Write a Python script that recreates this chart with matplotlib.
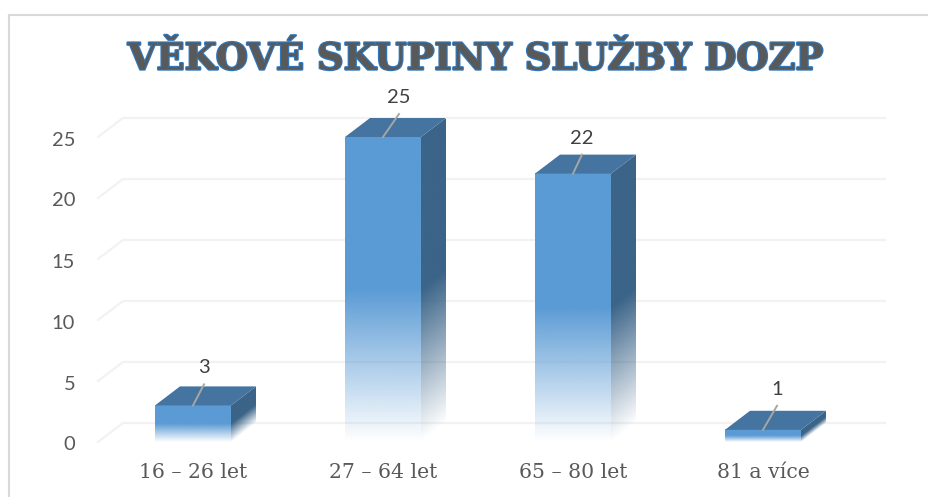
import numpy as np
import matplotlib
matplotlib.use('Agg')
import matplotlib.pyplot as plt
import matplotlib.patheffects as pe
from matplotlib.colors import to_rgb
from matplotlib.patches import Polygon

categories = ['16 – 26 let', '27 – 64 let', '65 – 80 let', '81 a více']
values = [3, 25, 22, 1]
y_ticks = [0, 5, 10, 15, 20, 25]
title = 'VĚKOVÉ SKUPINY SLUŽBY DOZP'

# leader lines of the data labels, in pixels, they differ per bar
leader_dx = [11, 16, 9, 14]
leader_dy = [21, 23, 19, 24]

W, H = 929, 497
fig = plt.figure(figsize=(W / 100, H / 100), dpi=100)
# axes placed by pixels: category 0 at x=193, spacing 190, value 0 at y=442
left, right = 98, 885
bottom, top = 442, 119
px_x = 190
px_y = 12.2
ax = fig.add_axes([left / W, 1 - bottom / H, (right - left) / W, (bottom - top) / H])
xmin, xmax = (left - 193) / px_x, (right - 193) / px_x
ymax = (bottom - top) / px_y
ax.axis('off')

dx = 25 / px_x
dy = 19 / px_y
bar_w = 0.4

# grid on the back wall and the side diagonals
for t in y_ticks:
    ax.plot([xmin, xmin + dx, xmax], [t, t + dy, t + dy], color='#f2f2f2', lw=1.6,
            clip_on=False, zorder=1, solid_joinstyle='miter')
    ax.text(xmin - 0.12, t - 3 / px_y, str(t), ha='right', va='center', fontsize=14.5,
            family='Lato', color='#595959')

def fade_front(color):
    # solid in the top half, going to white at the floor
    n = 256
    rgba = np.zeros((n, 1, 4))
    rgba[..., :3] = to_rgb(color)
    rgba[..., 3] = np.clip(np.linspace(0, 1, n) * 2, 0, 1)[:, None]
    return rgba

def fade_side(color, v):
    # same fade but sheared along the depth of the bar
    ny, nx = 256, 40
    xs = np.linspace(0, dx, nx)
    ys = np.linspace(0, v + dy, ny)
    xx, yy = np.meshgrid(xs, ys)
    s = (yy - xx * dy / dx) / v
    rgba = np.zeros((ny, nx, 4))
    rgba[..., :3] = to_rgb(color)
    rgba[..., 3] = np.clip(s * 2, 0, 1)
    return rgba

for i, v in enumerate(values):
    x0, x1 = i - bar_w / 2, i + bar_w / 2
    ax.imshow(fade_front('#5B9BD5'), extent=(x0, x1, 0, v), origin='lower', aspect='auto',
              zorder=4, interpolation='bilinear')
    side = Polygon([(x1, 0), (x1 + dx, dy), (x1 + dx, v + dy), (x1, v)], closed=True,
                   transform=ax.transData, fc='none', ec='none')
    ax.add_patch(side)
    im = ax.imshow(fade_side('#3B6488', v), extent=(x1, x1 + dx, 0, v + dy), origin='lower',
                   aspect='auto', zorder=3, interpolation='bilinear')
    im.set_clip_path(side)
    ax.add_patch(Polygon([(x0, v), (x1, v), (x1 + dx, v + dy), (x0 + dx, v + dy)], closed=True,
                         fc='#44749F', ec='none', zorder=5, clip_on=False))
    # leader line and data label
    ex = i + leader_dx[i] / px_x
    ey = v + leader_dy[i] / px_y
    ax.plot([i, ex], [v, ey], color='#a6a6a6', lw=1.4, zorder=6, clip_on=False)
    ax.text(ex, ey + 16.5 / px_y, str(v), ha='center', va='center', fontsize=14.5,
            family='Lato', color='#404040', zorder=7, clip_on=False)
    ax.text(i, -30 / px_y, categories[i], ha='center', va='center', fontsize=14.7,
            family='DejaVu Serif', color='#595959', clip_on=False)

ax.set_xlim(xmin, xmax)
ax.set_ylim(0, ymax)

fig.text(475 / W, 1 - 59.5 / H, title, ha='center', va='center', fontsize=26.6, weight='bold',
         family='DejaVu Serif', color='#595959',
         path_effects=[pe.withStroke(linewidth=1.7, foreground='#2F78BD')])

# frame of the pasted picture, open on the right
fig.add_artist(plt.Line2D([9 / W, 9 / W], [0, 1 - 14.5 / H], color='#d9d9d9', lw=1.5))
fig.add_artist(plt.Line2D([9 / W, 1], [1 - 14.5 / H, 1 - 14.5 / H], color='#d9d9d9', lw=1.5))

fig.savefig('out.png', dpi=100, facecolor='white')
